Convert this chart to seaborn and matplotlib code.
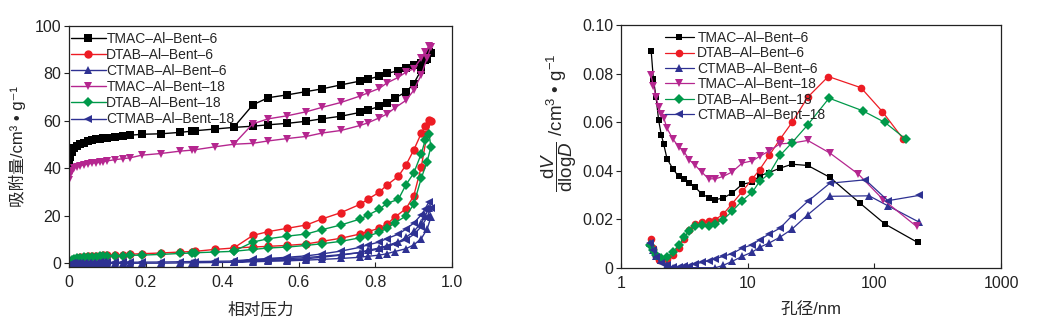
import numpy as np
import pandas as pd
import matplotlib
matplotlib.use("Agg")
import matplotlib.pyplot as plt
import seaborn as sns

# ---------------- data ----------------
SERIES = ["TMAC–Al–Bent–6", "DTAB–Al–Bent–6", "CTMAB–Al–Bent–6",
          "TMAC–Al–Bent–18", "DTAB–Al–Bent–18", "CTMAB–Al–Bent–18"]

# Left: N2 isotherms (adsorption branch then desorption branch)
P_ADS = [0.0, 0.003, 0.007, 0.012, 0.02, 0.03, 0.04, 0.05, 0.06, 0.07, 0.08, 0.09,
         0.10, 0.12, 0.14, 0.16, 0.19, 0.24, 0.29, 0.32, 0.33, 0.38, 0.43, 0.48,
         0.52, 0.57, 0.62, 0.66, 0.71, 0.76, 0.78, 0.81, 0.83, 0.85, 0.88, 0.90,
         0.92, 0.935, 0.945]
P_DES = [0.94, 0.93, 0.92, 0.90, 0.88, 0.86, 0.83, 0.81, 0.78, 0.76, 0.71, 0.66,
         0.62, 0.57, 0.52, 0.48, 0.43]

ADS_TMAC6 = [42, 45, 47, 48.5, 49.5, 50.3, 50.9, 51.4, 51.8, 52.2, 52.5, 52.8, 53.0,
             53.4, 53.7, 54.0, 54.4, 54.6, 55.2, 55.7, 55.9, 56.6, 57.3, 57.8, 58.4,
             59.0, 59.9, 60.9, 62.0, 63.6, 64.6, 66.1, 67.6, 69.6, 72.2, 75.7, 81.6,
             86.0, 88.5]
DES_TMAC6 = [89, 85.5, 84.5, 83.5, 82.5, 81.2, 80.0, 78.8, 77.6, 76.8, 75.2, 73.5,
             72.4, 71.0, 69.8, 66.8, 57.3]
ADS_DTAB6 = [0, 0.8, 1.5, 2.0, 2.4, 2.7, 2.9, 3.0, 3.1, 3.2, 3.3, 3.4, 3.5, 3.6, 3.7,
             3.9, 4.1, 4.4, 4.8, 5.0, 5.1, 5.9, 6.5, 6.9, 7.2, 7.6, 8.2, 9.3, 10.6,
             12.4, 13.4, 14.8, 16.6, 19.4, 23.1, 28.4, 40.8, 54.6, 60.2]
DES_DTAB6 = [60.5, 57.7, 54.9, 47.7, 41.5, 36.7, 33.0, 30.0, 27.0, 24.9, 21.4, 18.7,
             16.2, 14.8, 13.4, 11.8, 6.5]
ADS_CTMAB6 = [-0.8, -0.5, -0.3, -0.2, -0.1, 0, 0, 0, 0, 0, 0, 0, 0, 0, 0.05, 0.05,
              0.1, 0.1, 0.2, 0.3, 0.3, 0.4, 0.5, 0.7, 0.9, 1.1, 1.4, 1.7, 2.1, 2.6,
              3.0, 3.5, 4.1, 5.0, 6.2, 7.8, 10.5, 14.5, 19.5]
DES_CTMAB6 = [23.5, 20.0, 17.0, 13.5, 11.0, 9.0, 7.5, 6.5, 5.5, 4.6, 3.5, 2.6, 2.0,
              1.6, 1.3, 1.0, 0.6]
ADS_TMAC18 = [35.3, 37.3, 39.0, 40.0, 40.8, 41.2, 41.5, 41.9, 42.2, 42.4, 42.6, 42.9,
              43.2, 43.7, 44.1, 44.5, 45.6, 46.3, 47.3, 47.7, 47.9, 49.1, 50.2, 50.6,
              51.6, 52.6, 53.5, 54.9, 56.0, 58.1, 59.2, 61.3, 62.9, 65.4, 68.7, 72.9,
              79.5, 86.5, 91.3]
DES_TMAC18 = [91.5, 89.2, 86.5, 82.0, 80.6, 78.4, 76.0, 73.7, 71.8, 70.5, 67.8, 65.7,
              63.9, 62.2, 60.9, 58.8, 50.2]
ADS_DTAB18 = [0, 0.7, 1.3, 1.8, 2.1, 2.4, 2.6, 2.7, 2.8, 2.9, 3.0, 3.05, 3.1, 3.2,
              3.3, 3.4, 3.5, 3.8, 4.2, 4.4, 4.5, 4.8, 5.1, 5.9, 6.5, 6.9, 7.6, 8.3,
              9.3, 10.8, 11.5, 13.1, 14.8, 17.0, 20.0, 24.9, 36.0, 42.9, 49.1]
DES_DTAB18 = [54.6, 51.9, 46.3, 38.0, 33.2, 27.0, 25.3, 22.8, 20.3, 18.7, 16.2, 14.2,
              12.4, 11.5, 10.4, 9.0, 5.1]
ADS_CTMAB18 = [-0.5, -0.2, 0, 0.1, 0.2, 0.25, 0.3, 0.3, 0.35, 0.35, 0.4, 0.4, 0.4,
               0.45, 0.5, 0.5, 0.55, 0.6, 0.7, 0.8, 0.8, 0.9, 1.0, 1.3, 1.6, 2.0, 2.5,
               3.0, 3.7, 4.6, 5.2, 6.1, 7.0, 8.2, 10.0, 12.2, 15.5, 19.5, 23.5]
DES_CTMAB18 = [26.0, 23.0, 20.5, 17.0, 14.5, 12.3, 10.5, 9.0, 7.8, 6.8, 5.2, 4.0, 3.2,
               2.6, 2.1, 1.7, 1.1]

# Right: pore size distributions
D_TMAC6 = [1.73, 1.80, 1.89, 1.98, 2.08, 2.17, 2.31, 2.57, 2.85, 3.14, 3.46, 3.86,
           4.33, 4.92, 5.55, 6.42, 7.52, 9.07, 10.9, 12.4, 14.8, 18.0, 22.4, 29.8,
           44.6, 77.0, 121.3, 219.9]
V_TMAC6 = [0.0895, 0.0778, 0.0705, 0.0610, 0.0548, 0.0511, 0.0449, 0.0408, 0.0377,
           0.0366, 0.0349, 0.0332, 0.0305, 0.0290, 0.0281, 0.0288, 0.0308, 0.0345,
           0.0353, 0.0379, 0.0393, 0.0411, 0.0427, 0.0422, 0.0373, 0.0267, 0.0181,
           0.0105]
D_DTAB6 = [1.72, 1.80, 1.89, 1.98, 2.08, 2.31, 2.57, 2.85, 3.14, 3.46, 3.86, 4.33,
           4.92, 5.55, 6.42, 7.52, 9.07, 10.9, 12.4, 14.8, 18.0, 22.4, 29.8, 43.3,
           78.4, 115.6, 169.6]
V_DTAB6 = [0.0119, 0.0082, 0.0048, 0.0034, 0.0032, 0.0037, 0.0055, 0.0082, 0.0119,
           0.0158, 0.0181, 0.0188, 0.0192, 0.0199, 0.0222, 0.0264, 0.0315, 0.0367,
           0.0404, 0.0463, 0.0530, 0.0599, 0.0703, 0.0788, 0.0742, 0.0644, 0.0530]
D_CTMAB6 = [1.69, 1.80, 1.89, 2.08, 2.31, 2.57, 5.55, 6.42, 7.52, 9.07, 10.9, 12.4,
            14.8, 18.0, 22.4, 29.8, 44.6, 91.0, 128.0, 227.0]
V_CTMAB6 = [0.0103, 0.0075, 0.0051, 0.0034, 0.0014, 0.0002, 0.0001, 0.0011, 0.0027,
            0.0048, 0.0066, 0.0085, 0.0103, 0.0127, 0.0160, 0.0219, 0.0295, 0.0297,
            0.0256, 0.0188]
D_TMAC18 = [1.72, 1.80, 1.89, 1.98, 2.08, 2.17, 2.31, 2.57, 2.85, 3.14, 3.46, 3.86,
            4.33, 4.92, 5.55, 6.42, 7.52, 9.07, 10.9, 12.4, 14.8, 18.0, 22.4, 29.8,
            44.6, 74.9, 117.7, 215.5]
V_TMAC18 = [0.0795, 0.0751, 0.0705, 0.0662, 0.0634, 0.0619, 0.0575, 0.0530, 0.0500,
            0.0479, 0.0445, 0.0422, 0.0395, 0.0367, 0.0367, 0.0377, 0.0395, 0.0432,
            0.0441, 0.0459, 0.0482, 0.0511, 0.0514, 0.0525, 0.0473, 0.0386, 0.0281,
            0.0171]
D_DTAB18 = [1.69, 1.80, 1.89, 2.08, 2.31, 2.57, 2.85, 3.14, 3.46, 3.86, 4.33, 4.92,
            5.55, 6.42, 7.52, 9.07, 10.9, 12.4, 14.8, 18.0, 22.4, 29.8, 43.9, 81.0,
            121.3, 177.5]
V_DTAB18 = [0.0096, 0.0073, 0.0055, 0.0041, 0.0045, 0.0066, 0.0093, 0.0126, 0.0153,
            0.0174, 0.0178, 0.0174, 0.0182, 0.0199, 0.0233, 0.0277, 0.0312, 0.0356,
            0.0388, 0.0463, 0.0516, 0.0589, 0.0699, 0.0647, 0.0599, 0.0530]
D_CTMAB18 = [1.69, 1.80, 1.89, 2.08, 2.31, 2.57, 2.85, 3.14, 3.46, 3.86, 4.33, 4.92,
             5.55, 6.42, 7.52, 9.07, 10.9, 12.4, 14.8, 18.0, 22.4, 29.8, 44.6, 85.0,
             128.0, 227.0]
V_CTMAB18 = [0.0103, 0.0073, 0.0045, 0.0021, 0.0011, 0.0003, 0.0003, 0.0007, 0.0010,
             0.0016, 0.0023, 0.0030, 0.0038, 0.0048, 0.0059, 0.0082, 0.0096, 0.0116,
             0.0140, 0.0164, 0.0215, 0.0274, 0.0349, 0.0363, 0.0277, 0.0299]

LEFT_XTICKS = [0, 0.2, 0.4, 0.6, 0.8, 1.0]
LEFT_XTICKLABELS = ["0", "0.2", "0.4", "0.6", "0.8", "1.0"]
LEFT_YTICKS = [0, 20, 40, 60, 80, 100]
RIGHT_XTICKS = [1, 10, 100, 1000]
RIGHT_XTICKLABELS = ["1", "10", "100", "1000"]
RIGHT_YTICKS = [0, 0.02, 0.04, 0.06, 0.08, 0.10]
RIGHT_YTICKLABELS = ["0", "0.02", "0.04", "0.06", "0.08", "0.10"]

# ---------------- style ----------------
sns.set_theme(style="white")
plt.rcParams["font.family"] = ["Liberation Sans", "Noto Sans CJK SC", "DejaVu Sans"]
plt.rcParams["mathtext.fontset"] = "custom"
plt.rcParams["mathtext.rm"] = "Liberation Sans"
plt.rcParams["mathtext.it"] = "Liberation Sans:italic"
plt.rcParams["mathtext.bf"] = "Liberation Sans:bold"

COLORS = ["#000000", "#ed1c24", "#2e3192", "#b5268f", "#00994a", "#2e3192"]
MARKERS = ["s", "o", "^", "v", "D", "<"]
MSIZE_L = [5.5, 6, 6, 6, 5.5, 6]
MSIZE_R = [5, 5.5, 5.5, 5.5, 5, 5.5]

fig = plt.figure(figsize=(10.49, 3.29), dpi=100)
W, H = 1049, 329
axL = fig.add_axes([69 / W, 1 - 267 / H, 383 / W, 241 / H])
axR = fig.add_axes([621 / W, 1 - 268 / H, 380 / W, 243 / H])

ads = [ADS_TMAC6, ADS_DTAB6, ADS_CTMAB6, ADS_TMAC18, ADS_DTAB18, ADS_CTMAB18]
des = [DES_TMAC6, DES_DTAB6, DES_CTMAB6, DES_TMAC18, DES_DTAB18, DES_CTMAB18]
for i, name in enumerate(SERIES):
    df = pd.DataFrame({"p": list(P_ADS) + list(P_DES), "v": list(ads[i]) + list(des[i])})
    sns.lineplot(data=df, x="p", y="v", ax=axL, sort=False, estimator=None,
                 color=COLORS[i], marker=MARKERS[i], markersize=MSIZE_L[i],
                 markeredgewidth=0, linewidth=1.0, label=name)

Ds = [D_TMAC6, D_DTAB6, D_CTMAB6, D_TMAC18, D_DTAB18, D_CTMAB18]
Vs = [V_TMAC6, V_DTAB6, V_CTMAB6, V_TMAC18, V_DTAB18, V_CTMAB18]
for i, name in enumerate(SERIES):
    df = pd.DataFrame({"d": Ds[i], "v": Vs[i]})
    sns.lineplot(data=df, x="d", y="v", ax=axR, sort=False, estimator=None,
                 color=COLORS[i], marker=MARKERS[i], markersize=MSIZE_R[i],
                 markeredgewidth=0, linewidth=0.9, label=name)

# left axes
axL.set_xlim(0, 1.0)
axL.set_ylim(-1.5, 100)
axL.set_xticks(LEFT_XTICKS)
axL.set_xticklabels(LEFT_XTICKLABELS)
axL.set_yticks(LEFT_YTICKS)
axL.set_xlabel("相对压力", fontsize=12, labelpad=8)
axL.set_ylabel("吸附量/cm³ • g⁻¹", fontsize=12, labelpad=6)

# right axes
axR.set_xscale("log")
axR.set_xlim(1, 1000)
axR.set_ylim(0, 0.10)
axR.set_xticks(RIGHT_XTICKS)
axR.set_xticklabels(RIGHT_XTICKLABELS)
axR.xaxis.set_minor_locator(matplotlib.ticker.NullLocator())
axR.set_yticks(RIGHT_YTICKS)
axR.set_yticklabels(RIGHT_YTICKLABELS)
axR.set_xlabel("孔径/nm", fontsize=12, labelpad=8)
axR.set_ylabel(r"$\dfrac{\mathrm{d}V}{\mathrm{dlog}D}$ /cm$^{3}$ • g$^{-1}$",
               fontsize=13.5)
axR.yaxis.set_label_coords(-0.11, 0.60)

for ax in (axL, axR):
    for s in ax.spines.values():
        s.set_visible(True)
        s.set_color("#222222")
        s.set_linewidth(0.9)
    ax.tick_params(axis="x", direction="in", length=3.5, width=0.8,
                   labelsize=11.5, pad=6, colors="#222222", bottom=True)
    ax.tick_params(axis="y", direction="out", length=3.5, width=0.8,
                   labelsize=11.5, pad=2, colors="#222222", left=True)
    ax.grid(False)

legL = axL.legend(loc="upper left", bbox_to_anchor=(0.005, 0.975), frameon=False,
                  fontsize=10, handlelength=2.5, handletextpad=0.05,
                  labelspacing=0.15, borderpad=0, borderaxespad=0)
legR = axR.legend(loc="upper left", bbox_to_anchor=(0.115, 0.975), frameon=False,
                  fontsize=10, handlelength=2.1, handletextpad=0.25,
                  labelspacing=0.1, borderpad=0, borderaxespad=0)

fig.savefig("out.png", dpi=100)
